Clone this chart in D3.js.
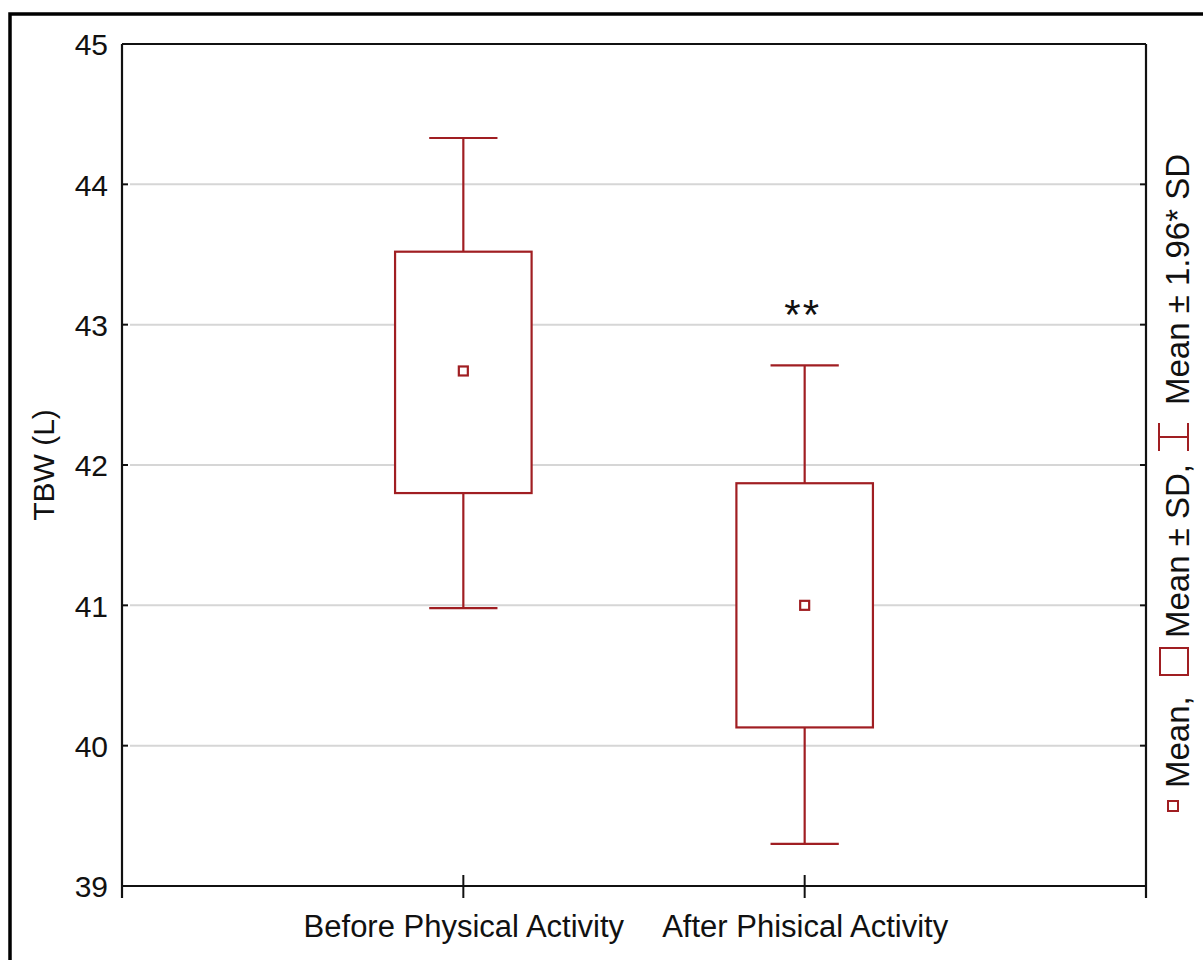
<!DOCTYPE html>
<html>
<head>
<meta charset="utf-8">
<script src="https://cdn.jsdelivr.net/npm/d3@7"></script>
<style>
  html, body { margin: 0; padding: 0; background: #fff; }
  svg { display: block; }
  text { font-family: Arial, "Liberation Sans", sans-serif; fill: #111; }
</style>
</head>
<body>
<svg id="chart" width="1203" height="960"></svg>
<script>
const categories = ["Before Physical Activity", "After Phisical Activity"];
const means = [42.67, 41.0];
const sdLow = [41.80, 40.13];
const sdHigh = [43.52, 41.87];
const ciLow = [40.98, 39.30];
const ciHigh = [44.33, 42.71];
const yTicks = [39, 40, 41, 42, 43, 44, 45];
const gridTicks = [40, 41, 42, 43, 44];
const yTitle = "TBW (L)";
const annotations = ["", "**"];

(function () {
const red = "#a01e22";
const svg = d3.select("#chart");
const W = 1203, H = 960;
const pL = 122, pR = 1146, pT = 44, pB = 886;
const ff = "Arial, 'Liberation Sans', sans-serif";

svg.append("rect").attr("width", W).attr("height", H).attr("fill", "#fff");
// outer frame
svg.append("rect").attr("x", 10).attr("y", 14).attr("width", 1210).attr("height", 970)
  .attr("fill", "none").attr("stroke", "#000").attr("stroke-width", 3.5);

const x = d3.scalePoint().domain(categories).range([pL, pR]).padding(1);
const y = d3.scaleLinear().domain([39, 45]).range([pB, pT]);

// gridlines
svg.append("g").selectAll("line").data(gridTicks).join("line")
  .attr("x1", pL + 8).attr("x2", pR - 6)
  .attr("y1", d => y(d)).attr("y2", d => y(d))
  .attr("stroke", "#d6d6d6").attr("stroke-width", 2);

// left axis
const yAxisL = d3.axisLeft(y).tickValues(yTicks).tickFormat(d3.format("d")).tickSize(0).tickPadding(14);
const gL = svg.append("g").attr("transform", `translate(${pL},0)`).call(yAxisL);
gL.select(".domain").remove();
gL.selectAll("text").attr("font-size", 30).attr("font-family", ff).attr("fill", "#111").attr("dy", "0.36em");

// inward ticks left & right
svg.append("g").selectAll("line").data(gridTicks).join("line")
  .attr("x1", pL).attr("x2", pL + 6)
  .attr("y1", d => y(d)).attr("y2", d => y(d))
  .attr("stroke", "#111").attr("stroke-width", 2);
svg.append("g").selectAll("line").data(gridTicks).join("line")
  .attr("x1", pR - 6).attr("x2", pR)
  .attr("y1", d => y(d)).attr("y2", d => y(d))
  .attr("stroke", "#111").attr("stroke-width", 2);

// plot frame
const frame = svg.append("g").attr("stroke", "#111").attr("stroke-width", 2.2).attr("fill", "none");
frame.append("line").attr("x1", pL).attr("x2", pL).attr("y1", pT).attr("y2", pB + 12);
frame.append("line").attr("x1", pR).attr("x2", pR).attr("y1", pT).attr("y2", pB + 12);
frame.append("line").attr("x1", pL).attr("x2", pR).attr("y1", pT).attr("y2", pT);
frame.append("line").attr("x1", pL).attr("x2", pR).attr("y1", pB).attr("y2", pB);

// bottom axis
const xAxis = d3.axisBottom(x).tickSize(0).tickPadding(29);
const gB = svg.append("g").attr("transform", `translate(0,${pB})`).call(xAxis);
gB.select(".domain").remove();
gB.selectAll("text").attr("font-size", 31).attr("font-family", ff).attr("fill", "#111");
svg.append("g").selectAll("line").data(categories).join("line")
  .attr("x1", d => x(d)).attr("x2", d => x(d))
  .attr("y1", pB - 11).attr("y2", pB + 12)
  .attr("stroke", "#111").attr("stroke-width", 2);

// y title
svg.append("text").attr("transform", `translate(54,${(pT + pB) / 2}) rotate(-90)`)
  .attr("text-anchor", "middle").attr("font-size", 30).text(yTitle);

// boxes
const step = x.step();
const boxW = step * 0.4, capW = step * 0.2;
const data = categories.map((c, i) => ({c, m: means[i], lo: sdLow[i], hi: sdHigh[i], cl: ciLow[i], ch: ciHigh[i], a: annotations[i]}));
const g = svg.append("g").attr("stroke", red).attr("stroke-width", 2.2);
data.forEach(d => {
  const cx = x(d.c);
  g.append("line").attr("x1", cx).attr("x2", cx).attr("y1", y(d.ch)).attr("y2", y(d.hi));
  g.append("line").attr("x1", cx).attr("x2", cx).attr("y1", y(d.lo)).attr("y2", y(d.cl));
  g.append("line").attr("x1", cx - capW / 2).attr("x2", cx + capW / 2).attr("y1", y(d.ch)).attr("y2", y(d.ch));
  g.append("line").attr("x1", cx - capW / 2).attr("x2", cx + capW / 2).attr("y1", y(d.cl)).attr("y2", y(d.cl));
  g.append("rect").attr("x", cx - boxW / 2).attr("width", boxW)
    .attr("y", y(d.hi)).attr("height", y(d.lo) - y(d.hi)).attr("fill", "#fff");
  g.append("rect").attr("x", cx - 4.5).attr("y", y(d.m) - 4.5).attr("width", 9).attr("height", 9).attr("fill", "#fff");
  if (d.a) {
    svg.append("text").attr("x", cx - 2).attr("y", y(d.ch) - 36)
      .attr("text-anchor", "middle").attr("font-size", 42).attr("letter-spacing", 2).text(d.a);
  }
});

// legend (rotated)
const lg = svg.append("g").attr("transform", "translate(1189,840) rotate(-90)");
const lfs = 33;
lg.append("rect").attr("x", 29).attr("y", -21).attr("width", 10).attr("height", 10)
  .attr("fill", "#fff").attr("stroke", red).attr("stroke-width", 2);
lg.append("text").attr("x", 52).attr("y", 0).attr("font-size", lfs).text("Mean,");
lg.append("rect").attr("x", 165).attr("y", -29).attr("width", 27).attr("height", 28)
  .attr("fill", "#fff").attr("stroke", red).attr("stroke-width", 2);
lg.append("text").attr("x", 202).attr("y", 0).attr("font-size", lfs).text("Mean ± SD,");
const wg = lg.append("g").attr("stroke", red).attr("stroke-width", 2);
wg.append("line").attr("x1", 389).attr("x2", 417).attr("y1", -30).attr("y2", -30);
wg.append("line").attr("x1", 389).attr("x2", 417).attr("y1", -1).attr("y2", -1);
wg.append("line").attr("x1", 403).attr("x2", 403).attr("y1", -30).attr("y2", -1);
lg.append("text").attr("x", 435).attr("y", 0).attr("font-size", lfs).text("Mean ± 1.96* SD");
})();
</script>
</body>
</html>
